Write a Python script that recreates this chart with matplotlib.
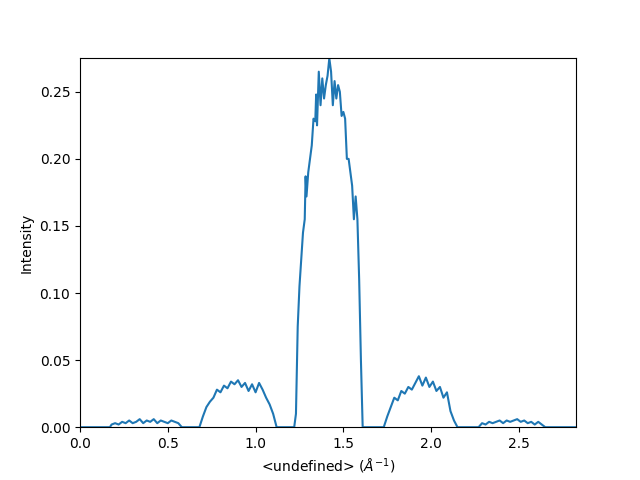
import numpy as np
import matplotlib.pyplot as plt

q = [0.0, 0.17, 0.18, 0.20, 0.22, 0.24, 0.26, 0.28, 0.30, 0.32, 0.34, 0.36, 0.38, 0.40, 0.42, 0.44, 0.46, 0.48, 0.50, 0.52, 0.54, 0.56, 0.58,
     0.68, 0.70, 0.72, 0.74, 0.76, 0.78, 0.80, 0.82, 0.84, 0.86, 0.88, 0.90, 0.92, 0.94, 0.96, 0.98, 1.00, 1.02, 1.04, 1.06, 1.08, 1.10, 1.12,
     1.22, 1.23, 1.24, 1.25, 1.26, 1.27, 1.28, 1.285, 1.29, 1.30, 1.31, 1.32, 1.33, 1.34, 1.345, 1.35, 1.36, 1.37, 1.38, 1.39, 1.40, 1.41, 1.42,
     1.43, 1.44, 1.45, 1.46, 1.47, 1.48, 1.49, 1.50, 1.51, 1.52, 1.53, 1.54, 1.55, 1.56, 1.57, 1.58, 1.59, 1.60, 1.61,
     1.73, 1.75, 1.77, 1.79, 1.81, 1.83, 1.85, 1.87, 1.89, 1.91, 1.93, 1.95, 1.97, 1.99, 2.01, 2.03, 2.05, 2.07, 2.09, 2.11, 2.13, 2.15,
     2.27, 2.29, 2.31, 2.33, 2.35, 2.37, 2.39, 2.41, 2.43, 2.45, 2.47, 2.49, 2.51, 2.53, 2.55, 2.57, 2.59, 2.61, 2.63, 2.65, 2.82]
intensity = [0.0, 0.0, 0.002, 0.003, 0.002, 0.004, 0.003, 0.005, 0.003, 0.004, 0.006, 0.003, 0.005, 0.004, 0.006, 0.003, 0.005, 0.004, 0.003, 0.005, 0.004, 0.003, 0.0,
             0.0, 0.008, 0.015, 0.019, 0.022, 0.028, 0.026, 0.031, 0.029, 0.034, 0.032, 0.035, 0.030, 0.033, 0.027, 0.032, 0.026, 0.033, 0.028, 0.022, 0.017, 0.010, 0.0,
             0.0, 0.010, 0.075, 0.105, 0.125, 0.145, 0.155, 0.187, 0.172, 0.19, 0.20, 0.21, 0.23, 0.228, 0.248, 0.225, 0.265, 0.24, 0.26, 0.245, 0.255, 0.262, 0.275,
             0.265, 0.24, 0.258, 0.245, 0.255, 0.25, 0.232, 0.235, 0.23, 0.20, 0.20, 0.19, 0.18, 0.155, 0.172, 0.155, 0.11, 0.05, 0.0,
             0.0, 0.008, 0.015, 0.022, 0.020, 0.027, 0.025, 0.030, 0.028, 0.033, 0.038, 0.031, 0.037, 0.030, 0.034, 0.027, 0.030, 0.022, 0.026, 0.012, 0.005, 0.0,
             0.0, 0.003, 0.002, 0.004, 0.003, 0.004, 0.005, 0.003, 0.005, 0.004, 0.005, 0.006, 0.004, 0.005, 0.003, 0.004, 0.002, 0.004, 0.002, 0.0, 0.0]

fig, ax = plt.subplots(figsize=(6.4, 4.8), dpi=100)
ax.plot(q, intensity)
ax.set_xlim(0, 2.825)
ax.set_ylim(0, 0.2755)
ax.set_xlabel(r'<undefined> ($\AA^{-1}$)')
ax.set_ylabel('Intensity')
fig.savefig('out.png')
